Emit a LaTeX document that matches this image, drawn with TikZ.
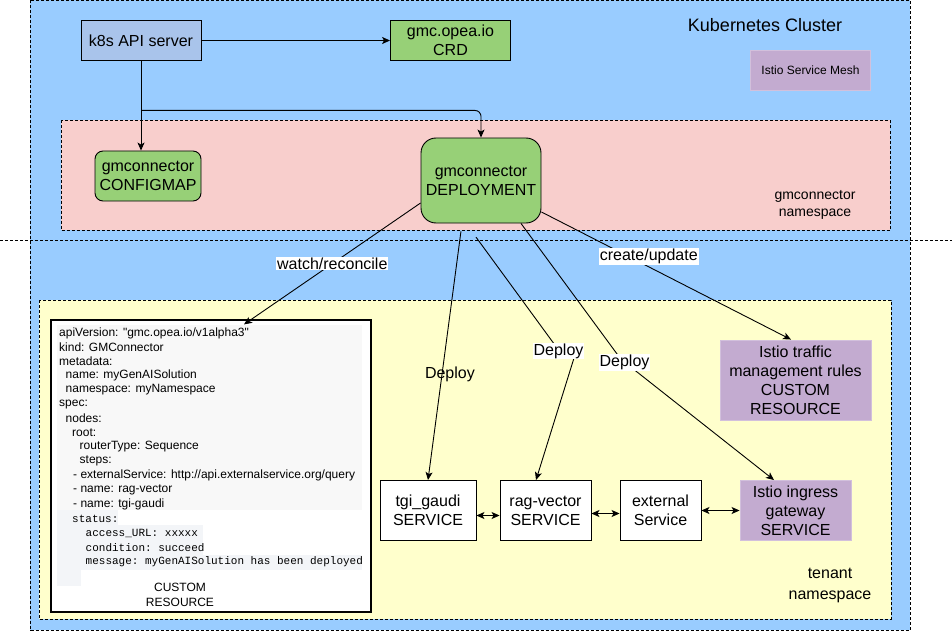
\documentclass[tikz,border=0pt]{standalone}
\usepackage{fontspec}
\setmainfont{Liberation Sans}
\setmonofont{Liberation Mono}
\usetikzlibrary{arrows.meta}
\definecolor{clusterblue}{HTML}{99CCFF}
\definecolor{nspink}{HTML}{F8CECC}
\definecolor{tenantyellow}{HTML}{FFFFCC}
\definecolor{gmcgreen}{HTML}{97D077}
\definecolor{apiblue}{HTML}{A9C4EB}
\definecolor{istiopurple}{HTML}{C3ABD0}
\definecolor{yamlgrey}{HTML}{F8F8F8}
\definecolor{codegrey}{HTML}{F3F5F8}
\newcommand{\boxfont}{\fontsize{16}{19}\selectfont}
\newcommand{\nsfont}{\fontsize{14}{17}\selectfont}
\newcommand{\yamlfont}{\fontsize{12}{14}\selectfont}
\newcommand{\codefont}{\fontsize{11}{14}\ttfamily\selectfont}

\begin{document}
\begin{tikzpicture}[x=1pt,y=-1pt]
\tikzstyle{every node}=[font=\boxfont,align=center]
\tikzstyle{area}=[draw,line width=0.9pt,dash pattern=on 3pt off 2pt]
\tikzstyle{box}=[draw,line width=0.9pt,inner sep=0pt,minimum height=40pt]
\tikzstyle{gmc}=[box,fill=gmcgreen]
\tikzstyle{service}=[box,fill=white,minimum height=60pt]
\tikzstyle{istio}=[box,draw=istiopurple!75!white,fill=istiopurple]
\tikzstyle{arrow}=[line width=0.9pt,-{Stealth[length=8pt,width=7pt,inset=2pt]}]
\tikzstyle{twoway}=[line width=0.9pt,{Stealth[length=8pt,width=7pt,inset=2pt]}-{Stealth[length=8pt,width=7pt,inset=2pt]}]
\tikzstyle{tag}=[fill=white,inner sep=0.8pt]
\tikzstyle{yaml}=[anchor=west,inner sep=0pt,font=\yamlfont]
\tikzstyle{code}=[anchor=west,inner sep=0pt,font=\codefont]
\useasboundingbox (0,0) rectangle (952,631);
\draw[area,fill=clusterblue] (30,0.5) rectangle (910,630);
\draw[area] (0,240) -- (952,240);
\draw[area,fill=nspink] (61,120.5) rectangle (890,230);
\draw[area,fill=tenantyellow] (39,300) rectangle (891,619);

\node[font=\fontsize{18}{21}\selectfont] (cluster) at (765,25) {Kubernetes Cluster};
\node[istio,minimum width=120pt,font=\fontsize{12}{14}\selectfont] (mesh) at (810.5,70) {Istio Service Mesh};
\node[box,fill=apiblue,minimum width=120pt] (api) at (141,40.5) {k8s API server};
\node[gmc,minimum width=120pt] (crd) at (450.5,40.5) {gmc.opea.io\\CRD};
\node[gmc,rounded corners=8pt,minimum width=106pt,minimum height=50pt] (configmap) at (148,176) {gmconnector\\CONFIGMAP};
\node[gmc,rounded corners=15pt,minimum width=120pt,minimum height=85pt] (deploy) at (481,180.5) {gmconnector\\DEPLOYMENT};
\node[font=\nsfont] (gmcns) at (815,205) {gmconnector\\namespace};

\node[draw,line width=1.2pt,fill=white,inner sep=0pt,minimum width=320pt,minimum height=292pt] (cr) at (211,466) {};
\fill[yamlgrey] (57,325) rectangle (362,510);
\fill[codegrey] (57,510) rectangle (118,525);
\fill[codegrey] (57,525) rectangle (203,540);
\fill[codegrey] (57,540) rectangle (203,555);
\fill[codegrey] (57,555) rectangle (362,570);
\fill[codegrey] (57,570) rectangle (81,586);
\node[yaml] (crapi) at (59,333) {apiVersion: \textquotedbl gmc.opea.io/v1alpha3\textquotedbl};
\node[yaml] (crkind) at (59,347.3) {kind: GMConnector};
\node[yaml] (crmeta) at (59,361.5) {metadata:};
\node[yaml] (crname) at (65.5,375.8) {name: myGenAISolution};
\node[yaml] (crns) at (65.5,390) {namespace: myNamespace};
\node[yaml] (crspec) at (59,404.3) {spec:};
\node[yaml] (crnodes) at (65.5,418.5) {nodes:};
\node[yaml] (crroot) at (72,432.8) {root:};
\node[yaml] (crrouter) at (79.5,447) {routerType: Sequence};
\node[yaml] (crsteps) at (79.5,461.3) {steps:};
\node[yaml] (crext) at (73,475.5) {- externalService: http://api.externalservice.org/query};
\node[yaml] (crrag) at (73,489.8) {- name: rag-vector};
\node[yaml] (crtgi) at (73,504) {- name: tgi-gaudi};
\node[code] (crstatus) at (72,519) {status:};
\node[code] (craccess) at (85.5,533) {access\_URL: xxxxx};
\node[code] (crcond) at (85.5,547.5) {condition: succeed};
\node[code] (crmsg) at (85.5,562) {message: myGenAISolution has been deployed};
\node[font=\fontsize{12}{15}\selectfont] (crlabel) at (180,595) {CUSTOM\\RESOURCE};

\node[istio,minimum width=151pt,minimum height=80pt] (traffic) at (795.5,380) {Istio traffic\\management rules\\CUSTOM\\RESOURCE};
\node[service,minimum width=96pt] (tgi) at (428,510.5) {tgi\_gaudi\\SERVICE};
\node[service,minimum width=91pt] (rag) at (545.5,510.5) {rag-vector\\SERVICE};
\node[service,minimum width=81pt] (external) at (660.5,510.5) {external\\Service};
\node[istio,minimum width=111pt,minimum height=60pt] (ingress) at (795.5,510.5) {Istio ingress\\gateway\\SERVICE};
\node[font=\fontsize{16}{20.5}\selectfont] (tenantns) at (830,585.5) {tenant\\namespace};

\coordinate (split) at ([yshift=-49.5pt]api.south);
\draw[arrow] (api) -- (crd);
\draw[arrow] (api.south) -- (api.south |- configmap.north);
\draw[arrow,rounded corners=6pt] (split) -| (deploy.north);
\draw[arrow] ([yshift=-22.5pt]deploy.west) -- node[tag,pos=0.5] (watch) {watch/reconcile} ([xshift=33pt,yshift=-5pt]cr.north);
\draw[arrow] ([yshift=-31.5pt]deploy.east) -- node[tag,pos=0.35,xshift=20pt] (create) {create/update} ([xshift=-4.5pt]traffic.north);
\draw[arrow,shorten <=8pt] ([xshift=-19pt]deploy.south) -- node[pos=0.59,xshift=8pt] (deploytgi) {Deploy} (tgi.north);
\draw[arrow,shorten <=17pt] ([xshift=-15pt]deploy.south) -- (560,352) -- (574,358) -- ([xshift=-9.5pt]rag.north);
\draw[arrow] ([xshift=40pt]deploy.south) -- (620,358) -- (632,368) -- ([xshift=-21.5pt]ingress.north);
\node[tag] (deployrag) at (558.5,351) {Deploy};
\node[tag] (deployingress) at (624.5,362.5) {Deploy};
\draw[twoway] ([yshift=-5pt]tgi.east) -- ([yshift=-5pt]rag.west);
\draw[twoway] ([yshift=-3pt]rag.east) -- ([yshift=-3pt]external.west);
\draw[twoway] (external) -- (ingress);
\end{tikzpicture}
\end{document}
